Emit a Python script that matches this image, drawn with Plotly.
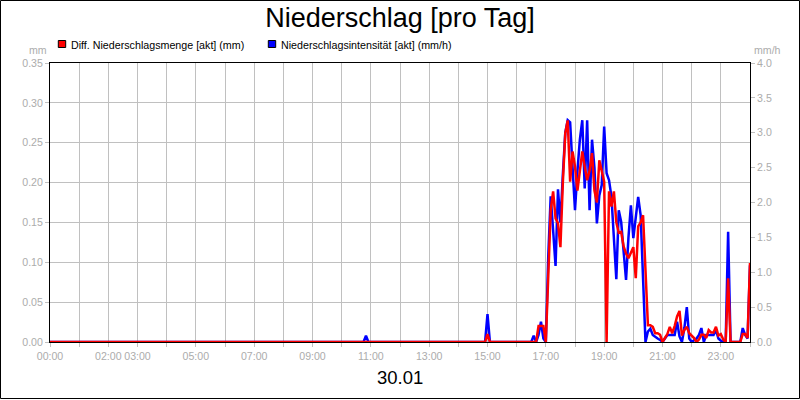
import plotly.graph_objects as go

# ---- data ----
times = [
    "00:00", "10:45", "10:50", "10:55", "14:55", "15:00", "15:05",
    "16:30", "16:35", "16:40", "16:45", "16:50", "16:55", "17:00",
    "17:05", "17:10", "17:15", "17:20", "17:25", "17:30", "17:35", "17:40", "17:45", "17:50", "17:55",
    "18:00", "18:05", "18:10", "18:15", "18:20", "18:25", "18:30", "18:35", "18:40", "18:45", "18:50", "18:55",
    "19:00", "19:05", "19:10", "19:15", "19:20", "19:25", "19:30", "19:35", "19:40", "19:45", "19:50", "19:55",
    "20:00", "20:05", "20:10", "20:15", "20:20", "20:25", "20:30", "20:35", "20:40", "20:45", "20:50", "20:55",
    "21:00", "21:05", "21:10", "21:15", "21:20", "21:25", "21:30", "21:35", "21:40", "21:45", "21:50", "21:55",
    "22:00", "22:05", "22:10", "22:15", "22:20", "22:25", "22:30", "22:35", "22:40", "22:45", "22:50", "22:55",
    "23:00", "23:05", "23:10", "23:15", "23:20", "23:25", "23:30", "23:35", "23:40", "23:45", "23:50", "23:55",
    "24:00",
]

diff_mm = [
    0, 0, 0, 0, 0, 0.01, 0,
    0, 0, 0, 0.02, 0.02, 0.02, 0,
    0.08, 0.165, 0.189, 0.155, 0.149, 0.119, 0.2, 0.262, 0.278, 0.201, 0.239,
    0.22, 0.19, 0.215, 0.239, 0.22, 0.203, 0.215, 0.237, 0.19, 0.175, 0.228, 0.215,
    0.201, 0.0, 0.189, 0.17, 0.189, 0.15, 0.137, 0.138, 0.12, 0.111, 0.105, 0.112,
    0.119, 0.08, 0.145, 0.15, 0.159, 0.09, 0.021, 0.021, 0.019, 0.011, 0.011, 0.009,
    0.0, 0.005, 0.01, 0.019, 0.011, 0.02, 0.032, 0.039, 0.008, 0.015, 0.019, 0.011,
    0.008, 0.005, 0.0, 0.003, 0.009, 0.009, 0.005, 0.015, 0.012, 0.012, 0.019, 0.008,
    0.01, 0.003, 0.0, 0.08, 0.0, 0, 0, 0, 0, 0.01, 0.01, 0.005,
    0.099,
]

intensity_mmh = [
    0, 0, 0.09, 0, 0, 0.40, 0,
    0, 0.09, 0, 0.1, 0.29, 0.05, 0,
    1.23, 2.09, 1.6, 1.09, 2.19, 1.71, 2.4, 3.0, 3.18, 3.15, 2.5,
    1.89, 2.45, 2.9, 3.18, 2.2, 3.18, 1.89, 2.9, 2.5, 1.7, 2.1, 2.25,
    3.09, 2.42, 2.32, 2.08, 1.5, 0.9, 1.89, 1.72, 1.3, 0.89, 1.5, 1.96,
    1.49, 1.8, 2.08, 1.82, 1.0, 0.0, 0.15, 0.19, 0.1, 0.07, 0.05, 0.03,
    0.0, 0.05, 0.1, 0.1, 0.1, 0.1, 0.29, 0.08, 0.0, 0.2, 0.5, 0.05,
    0.0, 0.03, 0.05, 0.1, 0.2, 0.0, 0.1, 0.1, 0.1, 0.1, 0.17, 0.05,
    0.02, 0.0, 0.0, 1.58, 0.0, 0, 0, 0, 0, 0.2, 0.1, 0.05,
    1.1,
]

tick_hours = [0, 2, 3, 5, 7, 9, 11, 13, 15, 17, 19, 21, 23]
tick_labels = ["00:00", "02:00", "03:00", "05:00", "07:00", "09:00", "11:00",
               "13:00", "15:00", "17:00", "19:00", "21:00", "23:00"]

series_names = ["Diff. Niederschlagsmenge [akt] (mm)", "Niederschlagsintensität [akt] (mm/h)"]
title_text = "Niederschlag [pro Tag]"
date_text = "30.01"

# ---- helpers ----
def to_hours(t):
    h, m = t.split(":")
    return int(h) + int(m) / 60.0

x_hours = [to_hours(t) for t in times]

FONT = "Liberation Sans, Arial, sans-serif"
GRID = "#c0c0c0"
LABEL = "#acacac"
RED = "#ff0000"
BLUE = "#0000ff"
TICK_SIZE = 10.6

W, H = 800, 400
L, R, T, B = 50, 50, 63, 58
PW, PH = W - L - R, H - T - B


def px_x(px):
    return (px - L) / PW


def px_y(py):
    return (H - B - py) / PH


fig = go.Figure()

# blue on primary (right) axis, red on overlaying (left) axis so red is drawn on top
fig.add_trace(go.Scatter(
    x=x_hours, y=intensity_mmh, mode="lines", name=series_names[1],
    line=dict(color=BLUE, width=2.5), yaxis="y", showlegend=False,
))
fig.add_trace(go.Scatter(
    x=x_hours, y=diff_mm, mode="lines", name=series_names[0],
    line=dict(color=RED, width=2.5), yaxis="y2", showlegend=False,
))

fig.update_layout(
    width=W, height=H,
    margin=dict(l=L, r=R, t=T, b=B, pad=0),
    paper_bgcolor="white", plot_bgcolor="white",
    font=dict(family=FONT, size=11, color=LABEL),
    showlegend=False,
    title=dict(text=title_text, x=0.5, xref="paper", xanchor="center",
               y=1 - 18 / H, yref="container", yanchor="middle",
               font=dict(family=FONT, size=27, color="black")),
    xaxis=dict(
        range=[0, 24], tickmode="array", tickvals=tick_hours, ticktext=tick_labels,
        tickangle=0, showgrid=True, gridcolor=GRID, gridwidth=1,
        minor=dict(dtick=1, showgrid=True, gridcolor=GRID, gridwidth=1,
                   ticks="outside", ticklen=4, tickcolor=GRID),
        ticks="outside", ticklen=4, tickcolor=GRID,
        showline=True, linecolor="black", linewidth=1, mirror=True,
        zeroline=False, tickfont=dict(family=FONT, size=TICK_SIZE, color=LABEL),
        fixedrange=True,
    ),
    yaxis=dict(
        side="right", range=[0, 4.0], dtick=0.5, tick0=0, tickformat=".1f",
        showgrid=False, zeroline=False,
        ticks="outside", ticklen=4, tickcolor=GRID,
        showline=True, linecolor="black", linewidth=1,
        tickfont=dict(family=FONT, size=TICK_SIZE, color=LABEL),
    ),
    yaxis2=dict(
        side="left", overlaying="y", range=[0, 0.35], dtick=0.05, tick0=0, tickformat=".2f",
        showgrid=True, gridcolor=GRID, gridwidth=1, zeroline=False,
        ticks="outside", ticklen=4, tickcolor=GRID,
        showline=True, linecolor="black", linewidth=1,
        tickfont=dict(family=FONT, size=TICK_SIZE, color=LABEL),
    ),
)

# legend-like labels with colored squares
legend_y = px_y(44.5)
fig.add_annotation(text=series_names[0], xref="paper", yref="paper",
                   x=px_x(68.5), y=legend_y, xanchor="left", yanchor="middle",
                   showarrow=False, font=dict(family=FONT, size=10.7, color="black"))
fig.add_annotation(text=series_names[1], xref="paper", yref="paper",
                   x=px_x(278.5), y=legend_y, xanchor="left", yanchor="middle",
                   showarrow=False, font=dict(family=FONT, size=10.7, color="black"))
for x0, col in [(58.3, RED), (268.3, BLUE)]:
    fig.add_shape(type="rect", xref="paper", yref="paper",
                  x0=px_x(x0), x1=px_x(x0 + 7.4), y0=px_y(47.5), y1=px_y(40.5),
                  fillcolor=col, line=dict(color="#000000", width=1))

# axis unit labels
fig.add_annotation(text="mm", xref="paper", yref="paper", x=px_x(49), y=px_y(50),
                   xanchor="right", yanchor="middle", showarrow=False,
                   font=dict(family=FONT, size=TICK_SIZE, color=LABEL))
fig.add_annotation(text="mm/h", xref="paper", yref="paper", x=px_x(752), y=px_y(50),
                   xanchor="left", yanchor="middle", showarrow=False,
                   font=dict(family=FONT, size=TICK_SIZE, color=LABEL))

# date below axis
fig.add_annotation(text=date_text, xref="paper", yref="paper", x=px_x(400), y=px_y(377),
                   xanchor="center", yanchor="middle", showarrow=False,
                   font=dict(family=FONT, size=18.5, color="black"))

# outer frame
fig.add_shape(type="rect", xref="paper", yref="paper",
              x0=px_x(0.5), x1=px_x(799.5), y0=px_y(398.5), y1=px_y(0.5),
              line=dict(color="black", width=1), fillcolor="rgba(0,0,0,0)")

fig.write_html("out.html", config={"displayModeBar": False},
               post_script="document.body.style.margin='0';document.body.style.overflow='hidden';")
